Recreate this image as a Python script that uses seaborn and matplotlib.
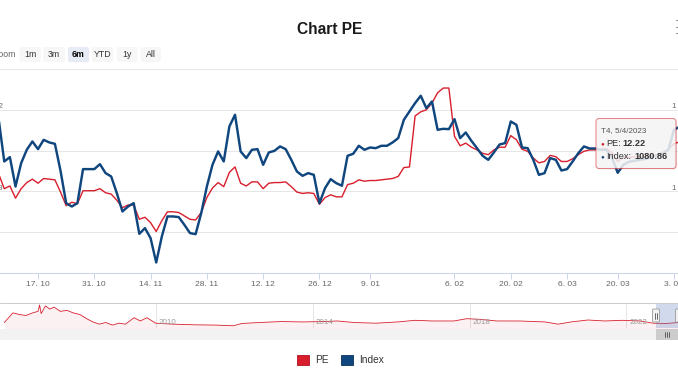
import numpy as np
import pandas as pd
import matplotlib
matplotlib.use("Agg")
import matplotlib.pyplot as plt
import matplotlib.transforms as mtransforms
from matplotlib.patches import FancyBboxPatch, Rectangle, Patch
from matplotlib.lines import Line2D
import seaborn as sns

sns.set_theme(style="white")
plt.rcParams['font.family'] = ['Liberation Sans', 'DejaVu Sans']

# ---------------- data ----------------
pe = [11.12, 11.06, 10.84, 10.88, 10.70, 10.84, 10.93, 10.98, 10.92, 10.99,
      10.98, 10.97, 10.79, 10.59, 10.64, 10.62, 10.81, 10.81, 10.81, 10.84,
      10.78, 10.76, 10.67, 10.56, 10.60, 10.60, 10.39, 10.42, 10.34, 10.21,
      10.37, 10.50, 10.50, 10.49, 10.44, 10.39, 10.38, 10.49, 10.71, 10.85,
      10.93, 10.87, 11.08, 11.16, 10.92, 10.88, 10.94, 10.94, 10.84, 10.92,
      10.93, 10.93, 10.94, 10.87, 10.79, 10.77, 10.78, 10.77, 10.61, 10.71,
      10.75, 10.72, 10.72, 10.90, 10.92, 10.97, 10.95, 10.96, 10.96, 10.97,
      10.98, 10.99, 11.02, 11.15, 11.16, 11.91, 11.97, 12.00, 12.10, 12.25,
      12.32, 12.32, 11.61, 11.47, 11.51, 11.45, 11.41, 11.36, 11.34, 11.41,
      11.45, 11.45, 11.62, 11.56, 11.42, 11.39, 11.29, 11.22, 11.24, 11.33,
      11.31, 11.24, 11.24, 11.28, 11.34, 11.39, 11.41, 11.41, 11.42, 11.43,
      11.37, 11.24, 11.30, 11.30, 11.31, 11.31, 11.31, 11.33, 11.34, 11.37,
      11.42, 11.50, 11.53, 11.55]

index = [1095.9, 1089.0, 1036.7, 1042.0, 1006.0, 1034.6, 1051.0, 1061.2, 1051.8, 1063.2,
         1060.0, 1058.3, 1025.2, 985.6, 981.5, 985.6, 1027.3, 1027.3, 1027.3, 1033.4,
         1022.4, 1018.3, 997.9, 975.4, 981.5, 985.6, 948.0, 955.0, 942.7, 912.9,
         944.8, 969.3, 969.3, 968.5, 959.1, 948.9, 947.6, 973.4, 1006.0, 1032.6,
         1049.0, 1036.7, 1079.6, 1093.9, 1049.0, 1040.8, 1051.0, 1051.8, 1032.6, 1047.7,
         1049.7, 1055.1, 1051.8, 1038.7, 1024.4, 1019.1, 1022.4, 1020.3, 985.6, 1004.0,
         1015.0, 1010.1, 1006.9, 1043.6, 1046.1, 1055.9, 1051.0, 1053.8, 1053.0, 1055.9,
         1055.9, 1060.0, 1065.3, 1087.7, 1098.0, 1108.2, 1117.2, 1102.0, 1110.2, 1075.5,
         1076.7, 1076.3, 1088.6, 1065.3, 1072.2, 1062.0, 1053.0, 1043.6, 1038.7, 1047.7,
         1057.5, 1059.2, 1085.7, 1081.6, 1053.8, 1053.0, 1038.7, 1020.3, 1022.4, 1040.8,
         1038.7, 1025.6, 1027.3, 1036.7, 1046.9, 1055.1, 1052.6, 1052.6, 1051.0, 1051.0,
         1041.2, 1022.8, 1032.6, 1036.3, 1037.5, 1038.7, 1040.0, 1042.4, 1043.6, 1046.1,
         1051.0, 1075.5, 1079.2, 1080.86]

tick_sessions = [8, 18, 28, 38, 48, 58, 67, 82, 92, 102, 111, 121]
tick_labels = ["17. 10", "31. 10", "14. 11", "28. 11", "12. 12", "26. 12",
               "9. 01", "6. 02", "20. 02", "6. 03", "20. 03", "3. 04"]

pe_ticks = [9.6, 10.2, 10.8, 11.4, 12.0, 12.6]
pe_labels = {12.0: "12", 10.8: "10.8"}
idx_labels = {1100: "1 100", 1000: "1 000"}

nav_year = [2006.13, 2006.35, 2006.52, 2006.68, 2006.85, 2006.99, 2007.03, 2007.07,
            2007.18, 2007.29, 2007.40, 2007.56, 2007.73, 2007.89, 2008.06, 2008.23,
            2008.39, 2008.55, 2008.72, 2008.89, 2009.05, 2009.22, 2009.44, 2009.60,
            2009.77, 2009.99, 2010.43, 2010.98, 2011.53, 2011.97, 2012.19, 2012.63,
            2013.19, 2013.74, 2014.29, 2014.62, 2015.06, 2015.61, 2016.17, 2016.61,
            2017.04, 2017.60, 2017.93, 2018.27, 2018.70, 2019.26, 2019.92, 2020.26,
            2020.59, 2021.02, 2021.45, 2021.90, 2022.35, 2022.68, 2023.01, 2023.32]
nav_pe = [12.2, 25.2, 23.0, 21.7, 25.2, 27.3, 36.0, 24.3,
          34.7, 30.4, 33.0, 27.3, 28.6, 25.2, 23.0, 17.4,
          13.0, 10.0, 12.2, 8.7, 11.3, 10.0, 18.7, 14.3,
          18.7, 11.3, 10.0, 9.1, 8.7, 7.8, 10.9, 12.2,
          13.5, 13.0, 13.5, 14.3, 12.2, 11.3, 13.0, 15.2,
          14.3, 14.3, 17.4, 16.5, 14.3, 14.3, 13.0, 10.0,
          13.0, 15.6, 14.3, 15.2, 14.3, 11.3, 10.9, 12.2]
nav_years_labeled = [2010, 2014, 2018, 2022]

buttons = ["1m", "3m", "6m", "YTD", "1y", "All"]
selected_button = "6m"

PE_COLOR = "#d81e2c"
IDX_COLOR = "#10467e"

# ---------------- figure ----------------
W, H, DPI = 678, 381, 100
fig = plt.figure(figsize=(W / DPI, H / DPI), dpi=DPI)
fig.patch.set_facecolor("white")
inch = fig.dpi_scale_trans


def P(x, y):
    """pixel (top-left origin) -> inches for dpi_scale_trans"""
    return x / DPI, (H - y) / DPI


def axes_rect(top, bottom, left=0, right=W):
    return [left / W, (H - bottom) / H, (right - left) / W, (bottom - top) / H]


# session index -> pixel: x = -7.0 + 5.628 * j
X0, DX = -7.0, 5.628

# ---------------- main chart ----------------
ax = fig.add_axes(axes_rect(69, 273))
ax2 = ax.twinx()
df = pd.DataFrame({"session": np.arange(len(pe)), "PE": pe, "Index": index})
sns.lineplot(data=df, x="session", y="PE", ax=ax, color=PE_COLOR, linewidth=1.0,
             solid_joinstyle="round")
sns.lineplot(data=df, x="session", y="Index", ax=ax2, color=IDX_COLOR, linewidth=1.75,
             solid_joinstyle="round")
ax.set_xlim((0 - X0) / DX, (W - X0) / DX)
ax.set_ylim(9.6, 12.6)
ax2.set_ylim(900, 1150)
for a in (ax, ax2):
    a.set_xlabel("")
    a.set_ylabel("")
    for s in a.spines.values():
        s.set_visible(False)
ax.spines["bottom"].set_visible(True)
ax.spines["bottom"].set_color("#ccd6eb")
ax.spines["bottom"].set_linewidth(0.75)

ax.set_yticks(pe_ticks)
ax.grid(axis="y", color="#e6e6e6", linewidth=0.75)
ax.grid(axis="x", visible=False)
ax.tick_params(axis="y", left=False, labelleft=False)
ax2.tick_params(axis="y", right=False, labelright=False)
ax2.grid(False)

ax.set_xticks(tick_sessions)
ax.set_xticklabels(tick_labels)
ax.tick_params(axis="x", direction="out", length=4.3, width=0.75, color="#ccd6eb",
               labelsize=6.1, labelcolor="#666666", pad=1.6, bottom=True)

# cropped axis labels (inside the plot, just above the grid lines)
tl = mtransforms.offset_copy(ax.get_yaxis_transform(), fig=fig, x=0, y=3, units="dots")
for v, s in pe_labels.items():
    ax.text(3 / W, v, s, transform=tl, ha="right", va="center", fontsize=5.8,
            color="#666666")
tr = mtransforms.offset_copy(ax2.get_yaxis_transform(), fig=fig, x=0, y=3, units="dots")
for v, s in idx_labels.items():
    ax2.text(671.5 / W, v, s, transform=tr, ha="left", va="center", fontsize=5.8,
             color="#666666")

# ---------------- navigator ----------------
axn = fig.add_axes(axes_rect(303, 328))
sns.lineplot(x=nav_year, y=nav_pe, ax=axn, color=PE_COLOR, linewidth=0.6)
axn.fill_between(nav_year, nav_pe, 0, color=PE_COLOR, alpha=0.06, linewidth=0)
axn.set_xlim(2010 - 156 / 39.2, 2010 + (W - 156) / 39.2)
axn.set_ylim(4.8, 38.6)
axn.set_xlabel("")
axn.set_ylabel("")
axn.set_xticks(nav_years_labeled)
axn.set_yticks([])
axn.tick_params(axis="x", bottom=False, labelbottom=False)
axn.grid(axis="x", color="#e6e6e6", linewidth=0.75)
axn.grid(axis="y", visible=False)
for s in axn.spines.values():
    s.set_visible(False)
axn.set_facecolor("none")
tn = mtransforms.offset_copy(axn.get_xaxis_transform(), fig=fig, x=3, y=2, units="dots")
for yr in nav_years_labeled:
    axn.text(yr, 0, str(yr), transform=tn, ha="left", va="bottom", fontsize=5.8,
             color="#999999")

# navigator outline + selected zone
fig.add_artist(Line2D([0, W / DPI], [P(0, 303)[1]] * 2, transform=inch,
                      color="#cccccc", linewidth=0.75))
fig.add_artist(Rectangle(P(656, 328), 30 / DPI, 25 / DPI, transform=inch,
                         facecolor="#6685c2", alpha=0.3, edgecolor="none"))
for hx in (656, 679):
    fig.add_artist(FancyBboxPatch(P(hx - 3.5, 322), 7 / DPI, 13 / DPI, transform=inch,
                                  boxstyle="round,pad=0,rounding_size=0.01",
                                  facecolor="#f2f2f2", edgecolor="#999999", linewidth=0.6))
    for lx in (hx - 1, hx + 1):
        fig.add_artist(Line2D([lx / DPI] * 2, [P(0, 312.5)[1], P(0, 318.5)[1]],
                              transform=inch, color="#333333", linewidth=0.5))

# scrollbar
fig.add_artist(Rectangle(P(0, 340), W / DPI, 11 / DPI, transform=inch,
                         facecolor="#f2f2f2", edgecolor="none"))
fig.add_artist(Rectangle(P(656, 340), 30 / DPI, 11 / DPI, transform=inch,
                         facecolor="#cccccc", edgecolor="none"))
for lx in (664.5, 666.5, 668.5):
    fig.add_artist(Line2D([lx / DPI] * 2, [P(0, 332)[1], P(0, 337)[1]],
                          transform=inch, color="#333333", linewidth=0.5))

# ---------------- title, range selector, menu ----------------
fig.text(330 / W, 1 - 30 / H, "Chart PE", ha="center", va="center", fontsize=11.2,
         fontweight="bold", color="#1a1a1a")
fig.text(16 / W, 1 - 54.5 / H, "Zoom", ha="right", va="center", fontsize=6.3,
         color="#666666")
btn_x = [(19.5, 41), (43, 65), (68, 89), (92, 113), (117, 137.5), (140.5, 161)]
for (x1, x2), lab in zip(btn_x, buttons):
    sel = lab == selected_button
    fig.add_artist(FancyBboxPatch(P(x1, 62), (x2 - x1) / DPI, 15 / DPI, transform=inch,
                                  boxstyle="round,pad=0,rounding_size=0.02",
                                  facecolor="#e6ebf5" if sel else "#f7f7f7",
                                  edgecolor="none"))
    fig.text((x1 + x2) / 2 / W, 1 - 54.5 / H, lab, ha="center", va="center",
             fontsize=6.3, color="#000000" if sel else "#333333",
             fontweight="bold" if sel else "normal")
for my in (20, 26.5, 33):
    fig.add_artist(Line2D([676 / DPI, 678 / DPI], [P(0, my)[1]] * 2, transform=inch,
                          color="#999999", linewidth=0.8))

# ---------------- tooltip ----------------
fig.add_artist(FancyBboxPatch(P(597, 169.5), 80 / DPI, 50 / DPI, transform=inch,
                              boxstyle="round,pad=0,rounding_size=0.03",
                              facecolor="#000000", alpha=0.08, edgecolor="none"))
fig.add_artist(FancyBboxPatch(P(596, 168.5), 80 / DPI, 50 / DPI, transform=inch,
                              boxstyle="round,pad=0,rounding_size=0.03",
                              facecolor=(0.97, 0.97, 0.97, 0.85),
                              edgecolor=(0.85, 0.12, 0.17, 0.55), linewidth=0.75))
fig.text(601 / W, 1 - 131 / H, "T4, 5/4/2023", ha="left", va="center", fontsize=5.8,
         color="#555555")
fig.text(600.5 / W, 1 - 143.5 / H, "●", ha="left", va="center", fontsize=4.5,
         color=PE_COLOR)
fig.text(606 / W, 1 - 143.5 / H, "PE:", ha="left", va="center", fontsize=6.6,
         color="#333333")
fig.text(622 / W, 1 - 143.5 / H, "12.22", ha="left", va="center", fontsize=6.6,
         color="#333333", fontweight="bold")
fig.text(600.5 / W, 1 - 156.5 / H, "●", ha="left", va="center", fontsize=4.5,
         color=IDX_COLOR)
fig.text(606 / W, 1 - 156.5 / H, "Index:", ha="left", va="center", fontsize=6.6,
         color="#333333")
fig.text(634 / W, 1 - 156.5 / H, "1080.86", ha="left", va="center", fontsize=6.6,
         color="#333333", fontweight="bold")

# ---------------- legend ----------------
handles = [Patch(facecolor=PE_COLOR, edgecolor="#b01020", linewidth=0.6),
           Patch(facecolor=IDX_COLOR, edgecolor="#0a3058", linewidth=0.6)]
leg = fig.legend(handles, ["PE", "Index"], loc="center",
                 bbox_to_anchor=(340.5 / W, 1 - 360 / H), ncol=2, frameon=False,
                 fontsize=7.3, handlelength=1.15, handleheight=1.15,
                 handletextpad=0.6, columnspacing=1.2, borderaxespad=0, borderpad=0)
for t in leg.get_texts():
    t.set_color("#333333")

fig.savefig("out.png", dpi=DPI)
